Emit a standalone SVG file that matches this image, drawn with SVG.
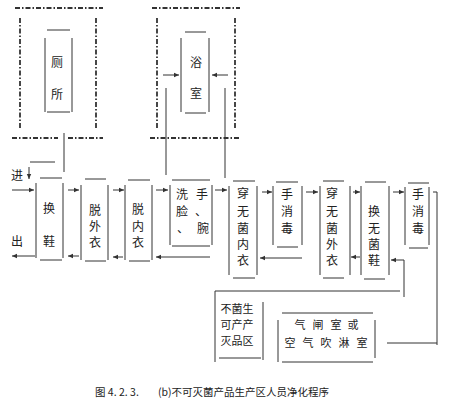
<svg xmlns="http://www.w3.org/2000/svg" width="450" height="406" viewBox="0 0 450 406">
<style>
.ln{stroke:#333;stroke-width:1;fill:none}
.dl{stroke:#333;stroke-width:1.8;fill:none;stroke-dasharray:5 2 1.5 2}
.ar{stroke:#333;stroke-width:1;fill:none;marker-end:url(#ah)}
text{font-family:"Noto Sans CJK SC","Noto Sans CJK JP",sans-serif;font-size:12px;fill:#222;text-anchor:middle;dominant-baseline:central}
.sm{font-size:11px}
.cap{font-size:10.5px;text-anchor:start;dominant-baseline:alphabetic}
</style>
<defs>
<marker id="ah" markerWidth="6" markerHeight="6" refX="5" refY="3" orient="auto" markerUnits="userSpaceOnUse">
<path d="M0,0.8 L5,3 L0,5.2 Z" fill="#333"/>
</marker>
</defs>
<rect width="450" height="406" fill="#fff"/>

<g id="toilet">
<path class="dl" d="M15,8H103M20,18V130M96,18V130M12,138H58M68,138H103"/>
<path class="ln" d="M47,30H70M45,38V112M72,38V112M47,112H70"/>
<text x="57" y="61">厕</text>
<text x="57" y="93">所</text>
</g>

<g id="bathroom">
<path class="dl" d="M152,8H240M157,18V130M235,18V130M150,138H240"/>
<path class="ln" d="M185,32H206M181,38V112M209,38V112M185,113H206"/>
<text x="196" y="61">浴</text>
<text x="196" y="92">室</text>
</g>

<g id="n1">
<path class="ln" d="M40,178H62M36,183V258M63,183V258M40,260H62"/>
<text x="49" y="207">换</text>
<text x="49" y="240">鞋</text>
</g>
<g id="n2">
<path class="ln" d="M85,179H106M81,185V260M108,185V260M85,261H106"/>
<text x="95" y="209">脱</text>
<text x="95" y="225">外</text>
<text x="95" y="241">衣</text>
</g>
<g id="n3">
<path class="ln" d="M128,180H150M125,185V260M152,185V260M129,261H150"/>
<text x="138" y="208">脱</text>
<text x="138" y="225">内</text>
<text x="138" y="241">衣</text>
</g>
<g id="n4">
<path class="ln" d="M172,180H210M170,185V245M212,185V245M172,246H210"/>
<text x="182 202" y="193">洗手</text>
<text x="182 201" y="210">脸、</text>
<text x="183 203" y="227">、腕</text>
</g>
<g id="n5">
<path class="ln" d="M233,181H255M229,186V275M257,186V275M233,278H255"/>
<text x="243" y="192">穿</text>
<text x="243" y="210">无</text>
<text x="243" y="227">菌</text>
<text x="243" y="243">内</text>
<text x="243" y="259">衣</text>
</g>
<g id="n6">
<path class="ln" d="M276,182H298M273,186V245M302,186V245M277,247H298"/>
<text x="287" y="193">手</text>
<text x="287" y="210">消</text>
<text x="287" y="227">毒</text>
</g>
<g id="n7">
<path class="ln" d="M323,181H344M320,186V275M350,186V275M323,278H344"/>
<text x="332" y="192">穿</text>
<text x="332" y="210">无</text>
<text x="332" y="227">菌</text>
<text x="332" y="243">外</text>
<text x="332" y="259">衣</text>
</g>
<g id="n8">
<path class="ln" d="M365,182H386M361,186V275M389,186V275M364,279H385"/>
<text x="374" y="210">换</text>
<text x="374" y="227">无</text>
<text x="374" y="243">菌</text>
<text x="374" y="259">鞋</text>
</g>
<g id="n9">
<path class="ln" d="M408,183H429M405,187V245M429,187V245M409,248H428"/>
<text x="418" y="193">手</text>
<text x="418" y="210">消</text>
<text x="418" y="227">毒</text>
</g>
<g id="n10">
<path class="ln" d="M215,298V362M263,302V360M219,358H261"/>
<text class="sm" x="226 237 248" y="308">不菌生</text>
<text class="sm" x="226 237 248" y="324">可产产</text>
<text class="sm" x="226 237 248" y="340">灭品区</text>
</g>
<g id="n11">
<path class="ln" d="M282,313H373M278,320V362M375,320V358M282,362H373"/>
<text class="sm" x="300 318 336 353" y="324">气闸室或</text>
<text class="sm" x="290 308 326 344 362" y="342">空气吹淋室</text>
</g>

<g id="labels">
<text x="17" y="174">进</text>
<text x="17" y="240">出</text>
</g>

<g id="connectors">
<path class="ln" d="M64,133V172M166,88V175M225,88V178M30,162H55"/>
<path class="ar" d="M163,75H179"/>
<path class="ar" d="M228,75H212"/>
<path class="ar" d="M29,167V179"/>
<path class="ar" d="M12,190H34"/>
<path class="ar" d="M35,256H12"/>
<path class="ar" d="M68,190H79"/>
<path class="ar" d="M79,256H68"/>
<path class="ar" d="M113,190H124"/>
<path class="ar" d="M123,257H113"/>
<path class="ar" d="M156,190H168"/>
<path class="ar" d="M210,257H156"/>
<path class="ar" d="M215,190H227"/>
<path class="ar" d="M262,192H272"/>
<path class="ar" d="M302,258H260"/>
<path class="ar" d="M306,192H318"/>
<path class="ar" d="M353,192H360"/>
<path class="ar" d="M360,257H351"/>
<path class="ar" d="M393,192H404"/>
<path class="ar" d="M404,297V260H391"/>
<path class="ln" d="M433,192H437V345M387,343H437"/>
<path class="ln" d="M215,298V291H400"/>
</g>

<text class="cap" x="95" y="396">图 4. 2. 3.</text>
<text class="cap" x="158" y="396">(b)不可灭菌产品生产区人员净化程序</text>
</svg>
